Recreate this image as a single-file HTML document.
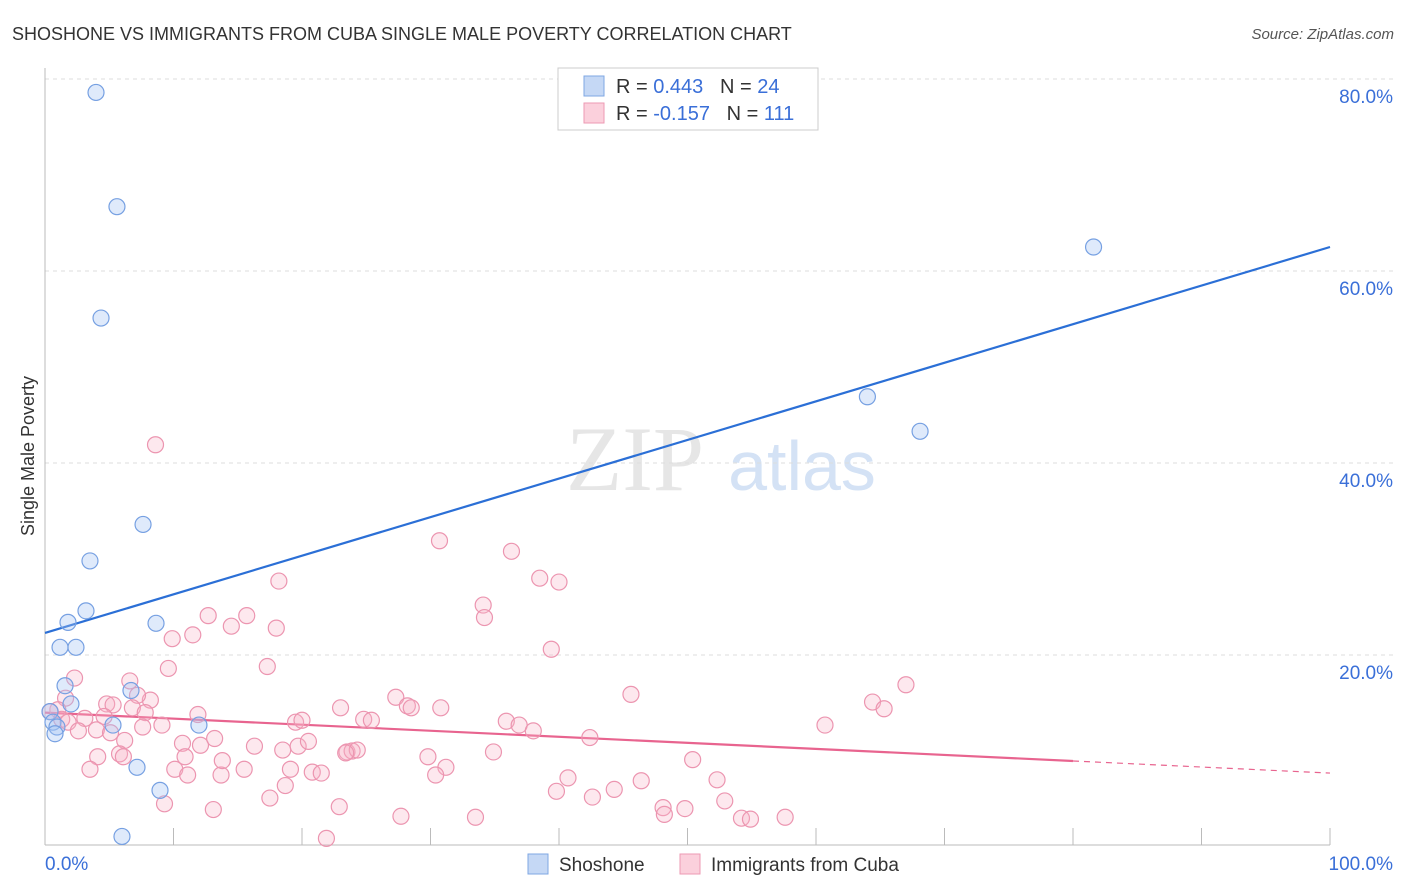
<!DOCTYPE html>
<html><head><meta charset="utf-8"><style>
body{margin:0;background:#fff;font-family:"Liberation Sans",sans-serif;}
svg{display:block}
</style></head><body>
<svg id="chart" width="1406" height="892" xmlns="http://www.w3.org/2000/svg">
<text x="12" y="40" font-size="18" fill="#333">SHOSHONE VS IMMIGRANTS FROM CUBA SINGLE MALE POVERTY CORRELATION CHART</text>
<text x="1394" y="39" font-size="15" fill="#555" font-style="italic" text-anchor="end">Source: ZipAtlas.com</text>
<text transform="translate(34,456) rotate(-90)" font-size="18" fill="#333" text-anchor="middle">Single Male Poverty</text>
<g>
<text x="635" y="490" font-size="92" font-family="Liberation Serif,serif" fill="#e6e6e6" text-anchor="middle">ZIP</text>
<text x="802" y="490" font-size="70" fill="#d4e2f5" text-anchor="middle">atlas</text>
</g>
<g id="grid"></g><g id="axes"></g><g id="lines"></g><g id="pts"></g>
<g>
<rect x="558" y="68" width="260" height="62" fill="#fff" stroke="#ccc"/>
<rect x="584" y="76" width="20" height="20" fill="#c5d8f5" stroke="#7fa7e3"/>
<rect x="584" y="103" width="20" height="20" fill="#fbd0dc" stroke="#ec9ab3"/>
<text x="616" y="93" font-size="20" fill="#333">R = <tspan fill="#3a6fd8">0.443</tspan>&#160;&#160;&#160;N = <tspan fill="#3a6fd8">24</tspan></text>
<text x="616" y="120" font-size="20" fill="#333">R = <tspan fill="#3a6fd8">-0.157</tspan>&#160;&#160;&#160;N = <tspan fill="#3a6fd8">111</tspan></text>
</g>
<g>
<rect x="528" y="854" width="20" height="20" fill="#c5d8f5" stroke="#7fa7e3"/>
<text x="559" y="871" font-size="19" fill="#333">Shoshone</text>
<rect x="680" y="854" width="20" height="20" fill="#fbd0dc" stroke="#ec9ab3"/>
<text x="711" y="871" font-size="19" fill="#333">Immigrants from Cuba</text>
</g>
</svg>
<script>
const yTicks=[20,40,60,80];
const yTickLabels=["20.0%","40.0%","60.0%","80.0%"];
const xTicks=[0,10,20,30,40,50,60,70,80,90,100];
const blueX=[3.97,5.6,4.36,7.63,3.5,3.19,1.79,8.64,1.17,2.41,1.56,2.02,0.39,0.62,0.93,0.78,5.29,11.98,6.69,7.16,8.95,5.99,81.6,64.0,68.1];
const blueY=[78.6,66.7,55.1,33.6,29.8,24.6,23.4,23.3,20.8,20.8,16.8,14.9,14.1,13.0,12.5,11.8,12.7,12.7,16.3,8.3,5.9,1.1,62.5,46.9,43.3];
const pinkX=[8.6,30.7,36.3,38.5,40.0,18.2,34.1,34.2,12.7,15.7,14.5,18.0,9.9,11.5,39.4,2.3,6.6,9.6,17.3,8.2,7.2,4.8,5.3,6.8,1.6,1.0,0.4,1.3,1.8,3.1,2.6,4.0,4.6,5.1,6.2,9.1,7.8,11.9,7.6,10.7,12.1,13.2,16.3,19.5,20.0,18.5,19.7,20.5,23.0,24.8,25.4,27.3,28.2,28.5,30.8,35.9,36.9,38.0,42.4,45.6,60.7,64.4,65.3,67.0,23.5,23.9,24.3,23.4,29.8,34.9,4.1,5.8,6.1,3.5,10.1,10.9,11.1,13.7,15.5,19.1,20.8,21.5,13.8,31.2,30.4,40.7,46.4,50.4,52.3,17.5,18.7,39.8,42.6,44.3,48.1,48.2,49.8,52.9,9.3,13.1,22.9,27.7,33.5,54.2,54.9,57.6,21.9];
const pinkY=[41.9,31.9,30.8,28.0,27.6,27.7,25.2,23.9,24.1,24.1,23.0,22.8,21.7,22.1,20.6,17.6,17.3,18.6,18.8,15.3,15.8,14.9,14.8,14.5,15.5,14.3,14.1,13.3,13.0,13.4,12.1,12.2,13.6,11.9,11.1,12.7,14.0,13.8,12.5,10.8,10.6,11.3,10.5,13.0,13.2,10.1,10.5,11.0,14.5,13.3,13.2,15.6,14.7,14.5,14.5,13.1,12.7,12.1,11.4,15.9,12.7,15.1,14.4,16.9,9.9,10.0,10.1,9.8,9.4,9.9,9.4,9.7,9.4,8.1,8.1,9.4,7.5,7.5,8.1,8.1,7.8,7.7,9.0,8.3,7.5,7.2,6.9,9.1,7.0,5.1,6.4,5.8,5.2,6.0,4.1,3.4,4.0,4.8,4.5,3.9,4.2,3.2,3.1,3.0,2.9,3.1,0.9];
const blueTrend=[22.3,0.402];   // intercept, slope
const pinkTrend=[14.0,-0.063];
const pinkSolidEnd=80;

const NS="http://www.w3.org/2000/svg";
const X=v=>45+v*12.85, Y=v=>847-v*9.6;
function mk(tag,attrs,parent){const e=document.createElementNS(NS,tag);for(const k in attrs)e.setAttribute(k,attrs[k]);parent.appendChild(e);return e;}
const grid=document.getElementById('grid'),axes=document.getElementById('axes'),lines=document.getElementById('lines'),pts=document.getElementById('pts');
yTicks.forEach((t,i)=>{
 const l=mk('line',{x1:45,x2:1394,y1:Y(t),y2:Y(t),stroke:'#ddd','stroke-dasharray':'4,4'},grid);
 
 
 const tx=mk('text',{x:1393,y:Y(t)+24,'font-size':19,fill:'#3a6fd8','text-anchor':'end'},grid);
 tx.textContent=yTickLabels[i];
 
 
});
const ax=mk('line',{x1:45,x2:45,y1:68,y2:845,stroke:'#bbb'},axes);


const bx=mk('line',{x1:45,x2:1330,y1:845,y2:845,stroke:'#bbb'},axes);


xTicks.forEach(t=>{
 const l=mk('line',{x1:X(t),x2:X(t),y1:828,y2:845,stroke:'#bbb'},axes);
 
 
});
const xl0=mk('text',{x:45,y:870,'font-size':19,fill:'#3a6fd8'},axes);xl0.textContent='0.0%';


const xl1=mk('text',{x:1393,y:870,'font-size':19,fill:'#3a6fd8','text-anchor':'end'},axes);xl1.textContent='100.0%';



pinkX.forEach((x,i)=>{
 const c=mk('circle',{cx:X(x),cy:Y(pinkY[i]),r:8,fill:'rgba(248,180,200,0.3)',stroke:'#ec95b0','stroke-width':1.2},pts);
 
 
});
blueX.forEach((x,i)=>{
 const c=mk('circle',{cx:X(x),cy:Y(blueY[i]),r:8,fill:'rgba(164,194,244,0.35)',stroke:'#76a0e2','stroke-width':1.2},pts);
 
 
});
const bl=mk('line',{x1:X(0),y1:Y(blueTrend[0]),x2:X(100),y2:Y(blueTrend[0]+100*blueTrend[1]),stroke:'#2b6fd6','stroke-width':2.2},lines);


const pl=mk('line',{x1:X(0),y1:Y(pinkTrend[0]),x2:X(pinkSolidEnd),y2:Y(pinkTrend[0]+pinkSolidEnd*pinkTrend[1]),stroke:'#e8648f','stroke-width':2.2},lines);


const pd=mk('line',{x1:X(pinkSolidEnd),y1:Y(pinkTrend[0]+pinkSolidEnd*pinkTrend[1]),x2:X(100),y2:Y(pinkTrend[0]+100*pinkTrend[1]),stroke:'#e8648f','stroke-width':1.2,'stroke-dasharray':'6,5'},lines);


</script>
</body></html>
